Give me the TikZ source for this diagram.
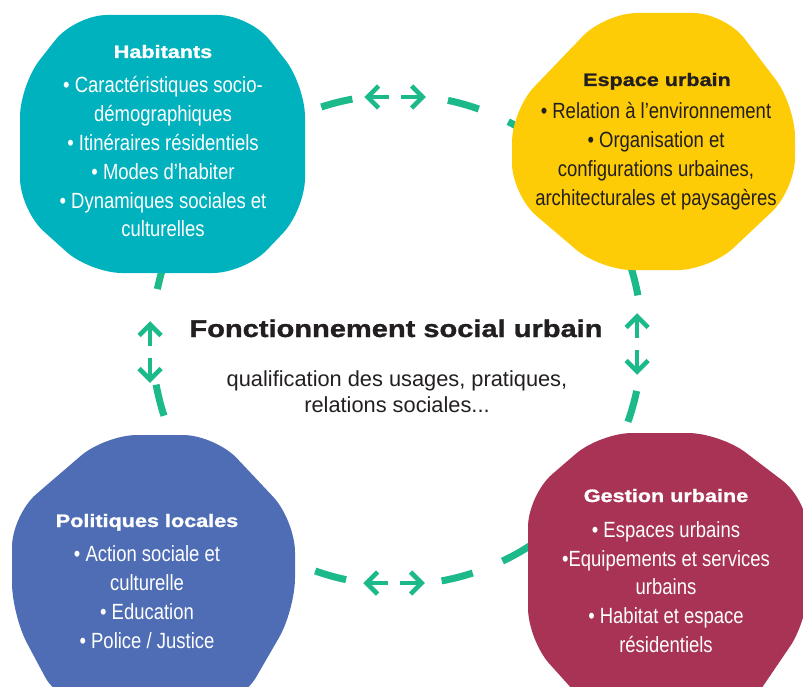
\documentclass[tikz,border=0pt]{standalone}
\usepackage{fontspec}
\setmainfont{Liberation Sans}
\newfontfamily\condfont[FakeStretch=0.84]{Liberation Sans}
\newfontfamily\heavyfont[FakeStretch=1.2,FakeBold=1.3]{Liberation Sans Bold}

\definecolor{ringgreen}{RGB}{28,185,138}
\definecolor{habteal}{RGB}{0,177,190}
\definecolor{espyellow}{RGB}{254,203,7}
\definecolor{polblue}{RGB}{78,109,180}
\definecolor{gescrimson}{RGB}{168,51,85}
\definecolor{inkdark}{RGB}{35,31,32}

\begin{document}
\begin{tikzpicture}[x=1pt,y=-1pt,
  ringdash/.style={draw=ringgreen, line width=7pt, line cap=butt},
  dartline/.style={draw=ringgreen, line width=4.6pt, line cap=butt, line join=miter},
  dart/.pic={
    \draw[dartline] (-1.5,0) -- (-23,0);
    \draw[dartline] (-12.5,-11) -- (-1.5,0) -- (-12.5,11);
  },
  blob/.style={rounded corners=32pt, draw=none},
  boxtitle/.style={font=\heavyfont\fontsize{18}{22}\selectfont, anchor=base, inner sep=0pt},
  boxbody/.style={font=\condfont\fontsize{22}{28.8}\selectfont, align=center, inner sep=0pt},
]
\useasboundingbox (0,0) rectangle (803,687);
\clip (0,0) rectangle (803,687);

% dashed ring: five dashes per quarter, a wider gap at each cardinal point
\foreach \c in {0,90,180,270}{
  \foreach \k in {0,...,4}{
    \pgfmathsetmacro{\a}{\c+12+15*\k}
    \draw[ringdash] (397,340) ++(\a:245) arc[start angle=\a, delta angle=7.5, radius=245];
  }
}

% double arrows on the ring
\pic[rotate=180] at (366,97) {dart};
\pic at (424,97) {dart};
\pic[rotate=180] at (365,583) {dart};
\pic at (423,583) {dart};
\pic[rotate=90] at (150,323) {dart};
\pic[rotate=-90] at (150,381) {dart};
\pic[rotate=90] at (637,315) {dart};
\pic[rotate=-90] at (637,373) {dart};

% the four rounded octagons
\fill[habteal, blob] (75,15) -- (250,15) -- (305,85) -- (305,210) -- (245,273)
  -- (90,273) -- (20,210) -- (20,85) -- cycle;
\fill[espyellow, blob] (605,13) -- (725,13) -- (795,105) -- (795,190) -- (710,270)
  -- (600,270) -- (512,195) -- (512,110) -- cycle;
\fill[polblue, blob] (105,435) -- (215,435) -- (295,520) -- (295,610) -- (240,705)
  -- (60,705) -- (12,615) -- (12,515) -- cycle;
\fill[gescrimson, blob] (600,433) -- (720,433) -- (808,500) -- (808,620) -- (740,720)
  -- (600,720) -- (528,640) -- (528,495) -- cycle;

% Habitants
\node[boxtitle, text=white] (habT) at (163,58) {Habitants};
\node[boxbody, text=white] (habB) at (163,157) {%
  • Caractéristiques socio-\\
  démographiques\\
  • Itinéraires résidentiels\\
  • Modes d’habiter\\
  • Dynamiques sociales et\\
  culturelles};

% Espace urbain
\node[boxtitle, text=inkdark] (espT) at (657,86) {Espace urbain};
\node[boxbody, text=inkdark] (espB) at (656,156) {%
  • Relation à l’environnement\\
  • Organisation et\\
  configurations urbaines,\\
  architecturales et paysagères};

% Politiques locales
\node[boxtitle, text=white] (polT) at (147,527) {Politiques locales};
\node[boxbody, text=white] (polB) at (147,597) {%
  • Action sociale et\\
  culturelle\\
  • Education\\
  • Police / Justice};

% Gestion urbaine
\node[boxtitle, text=white] (gesT) at (666,502) {Gestion urbaine};
\node[boxbody, text=white] (gesB) at (666,587) {%
  • Espaces urbains\\
  •Equipements et services\\
  urbains\\
  • Habitat et espace\\
  résidentiels};

% centre of the ring
\node[font=\heavyfont\fontsize{24.2}{28}\selectfont, text=inkdark, anchor=base, inner sep=0pt]
  (mainT) at (396,337) {Fonctionnement social urbain};
\node[font=\fontsize{21.8}{26}\selectfont, text=inkdark, align=center, inner sep=0pt]
  (mainB) at (397,392) {qualification des usages, pratiques,\\relations sociales...};
\end{tikzpicture}
\end{document}
